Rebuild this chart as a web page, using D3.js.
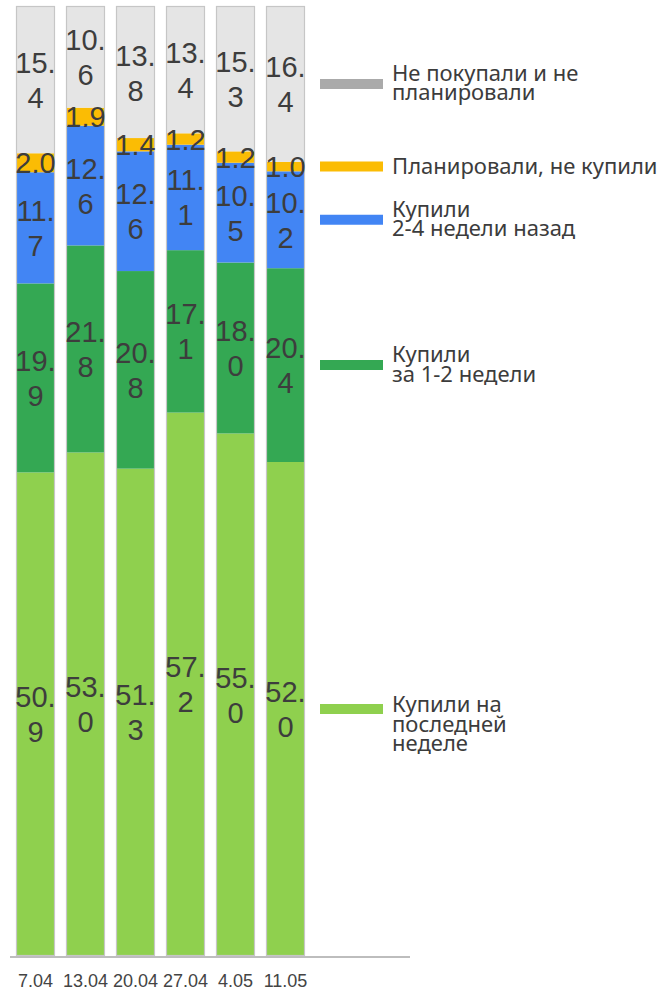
<!DOCTYPE html>
<html>
<head>
<meta charset="utf-8">
<script src="https://cdn.jsdelivr.net/npm/d3@7"></script>
<style>
  html, body { margin: 0; padding: 0; background: #fff; }
  svg { display: block; }
</style>
</head>
<body>
<script>
const dates = ["7.04", "13.04", "20.04", "27.04", "4.05", "11.05"];
const seriesNames = [
  "Купили на\nпоследней\nнеделе",
  "Купили\nза 1-2 недели",
  "Купили\n2-4 недели назад",
  "Планировали, не купили",
  "Не покупали и не\nпланировали"
];
const lastWeek       = [50.9, 53.0, 51.3, 57.2, 55.0, 52.0];
const oneTwoWeeks    = [19.9, 21.8, 20.8, 17.1, 18.0, 20.4];
const twoFourWeeks   = [11.7, 12.6, 12.6, 11.1, 10.5, 10.2];
const plannedNotBuy  = [2.0, 1.9, 1.4, 1.2, 1.2, 1.0];
const notBoughtNorPl = [15.4, 10.6, 13.8, 13.4, 15.3, 16.4];

const seriesValues = [lastWeek, oneTwoWeeks, twoFourWeeks, plannedNotBuy, notBoughtNorPl];
const fills = ["#8fd04e", "#34a853", "#4285f4", "#fbbc04", "#e5e5e5"];
const legendColors = ["#8fd04e", "#34a853", "#4285f4", "#fbbc04", "#aaaaaa"];

const W = 672, H = 990;
const svg = d3.select("body").append("svg").attr("width", W).attr("height", H);

const x = d3.scaleBand().domain(dates).range([10.5, 310.5]).paddingInner(0.22).paddingOuter(0.11);
const y = d3.scaleLinear().domain([0, 100]).range([956, 6]);

const table = dates.map((d, i) => {
  const row = { date: d };
  seriesValues.forEach((s, k) => row["s" + k] = s[i]);
  return row;
});
const keys = seriesValues.map((s, k) => "s" + k);
const stacked = d3.stack().keys(keys)(table);

const g = svg.append("g");
stacked.forEach((layer, k) => {
  g.append("g").selectAll("rect").data(layer).join("rect")
    .attr("x", d => x(d.data.date))
    .attr("width", x.bandwidth())
    .attr("y", d => y(d[1]))
    .attr("height", d => y(d[0]) - y(d[1]))
    .attr("fill", fills[k]);
});

// bar outlines
g.append("g").selectAll("rect").data(dates).join("rect")
  .attr("x", d => x(d) + 0.5)
  .attr("width", x.bandwidth() - 1)
  .attr("y", y(100) + 0.5)
  .attr("height", y(0) - y(100) - 1)
  .attr("fill", "none")
  .attr("stroke", "#c6c6c6")
  .attr("stroke-width", 1.2);

// value labels
const fs = 29, lh = 35, cap = 21;
stacked.forEach((layer, k) => {
  layer.forEach(d => {
    const v = d[1] - d[0];
    const str = v.toFixed(1);
    const cx = x(d.data.date) + x.bandwidth() / 2;
    const cy = (y(d[0]) + y(d[1])) / 2;
    const t = g.append("text")
      .attr("text-anchor", "middle")
      .attr("font-family", "'Liberation Sans', Arial, sans-serif")
      .attr("font-size", fs)
      .attr("fill", "#3d3d3d")
      .attr("x", cx);
    t.text(str);
    const wdt = t.node().getComputedTextLength();
    if (wdt > x.bandwidth() + 2) {
      const parts = [str.slice(0, str.indexOf(".") + 1), str.slice(str.indexOf(".") + 1)];
      t.text(null);
      const firstBase = cy - (cap + lh) / 2 + cap;
      parts.forEach((p, i) => {
        t.append("tspan").attr("x", cx).attr("y", firstBase + i * lh).text(p);
      });
    } else {
      t.attr("y", cy + cap / 2);
    }
  });
});

// x axis line
svg.append("line")
  .attr("x1", 10).attr("x2", 410)
  .attr("y1", 957).attr("y2", 957)
  .attr("stroke", "#bdbdbd").attr("stroke-width", 2);

// x labels
svg.append("g").selectAll("text").data(dates).join("text")
  .attr("x", d => x(d) + x.bandwidth() / 2)
  .attr("y", 987)
  .attr("text-anchor", "middle")
  .attr("font-family", "'Liberation Sans', Arial, sans-serif")
  .attr("font-size", 18)
  .attr("fill", "#444")
  .text(d => d);

// legend, positioned at last bar's segment centres
const lastLayer = stacked.map(layer => layer[layer.length - 1]);
const lg = svg.append("g");
seriesNames.forEach((name, k) => {
  const d = lastLayer[k];
  const cy = (y(d[0]) + y(d[1])) / 2;
  lg.append("line")
    .attr("x1", 320).attr("x2", 383)
    .attr("y1", cy).attr("y2", cy)
    .attr("stroke", legendColors[k]).attr("stroke-width", 10);
  const lines = name.split("\n");
  const t = lg.append("text")
    .attr("font-family", "'Noto Sans', Roboto, sans-serif")
    .attr("font-size", 22)
    .attr("fill", "#3c3c3c");
  const first = lines.length === 1 ? cy + 7 : (lines.length === 2 ? cy - 3 : cy + 3);
  lines.forEach((l, i) => {
    t.append("tspan").attr("x", 392).attr("y", first + i * 19.5).text(l);
  });
});
</script>
</body>
</html>
